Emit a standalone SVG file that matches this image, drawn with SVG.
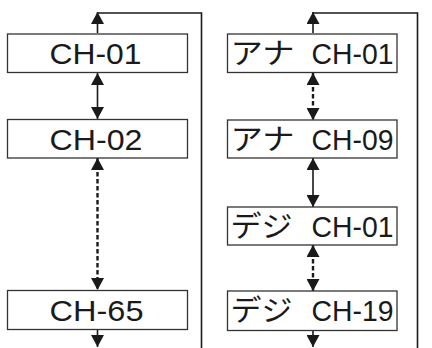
<svg xmlns="http://www.w3.org/2000/svg" width="432" height="348" viewBox="0 0 432 348">
<defs>
<marker id="ah" viewBox="0 0 12 13" refX="12" refY="6.5" markerWidth="12" markerHeight="13" markerUnits="userSpaceOnUse" orient="auto-start-reverse">
<path d="M0,0 L12,6.5 L0,13 Z" fill="#1a1a1a"/>
</marker>
</defs>
<style>
.box{fill:#fff;stroke:#333;stroke-width:1.3}
.t{font-family:"Liberation Sans","Noto Sans CJK JP",sans-serif;font-size:30px;fill:#1a1a1a}
.j{font-family:"Noto Sans CJK JP",sans-serif;font-size:29px;fill:#1a1a1a}
.s{fill:none;stroke:#1a1a1a;stroke-width:1.6}
.d{fill:none;stroke:#1a1a1a;stroke-width:2.4;stroke-dasharray:4.5 2.5}
.ln{fill:none;stroke:#1a1a1a;stroke-width:1.6}
</style>
<rect width="432" height="348" fill="#fff"/>
<g id="connectors">
<path class="ln" d="M97.5,13 H201.5 V348"/>
<line class="s" x1="97.5" y1="33" x2="97.5" y2="12" marker-end="url(#ah)"/>
<line class="s" x1="97.5" y1="73" x2="97.5" y2="119" marker-start="url(#ah)" marker-end="url(#ah)"/>
<line class="d" x1="97.5" y1="158" x2="97.5" y2="290" marker-start="url(#ah)" marker-end="url(#ah)"/>
<line class="s" x1="97.5" y1="330" x2="97.5" y2="347" marker-end="url(#ah)"/>
<path class="ln" d="M313,13 H417.5 V348"/>
<line class="s" x1="313" y1="33" x2="313" y2="12" marker-end="url(#ah)"/>
<line class="d" x1="313" y1="73" x2="313" y2="120" marker-start="url(#ah)" marker-end="url(#ah)"/>
<line class="s" x1="313" y1="158" x2="313" y2="207" marker-start="url(#ah)" marker-end="url(#ah)"/>
<line class="d" x1="313" y1="245" x2="313" y2="291" marker-start="url(#ah)" marker-end="url(#ah)"/>
<line class="s" x1="313" y1="331" x2="313" y2="347" marker-end="url(#ah)"/>
</g>
<g id="n-ch01"><rect class="box" x="7.5" y="34" width="180" height="38.5"/><text class="t" x="49.5" y="64" textLength="92" lengthAdjust="spacingAndGlyphs">CH-01</text></g>
<g id="n-ch02"><rect class="box" x="7.5" y="119.5" width="180" height="38.5"/><text class="t" x="49.5" y="149.5" textLength="93" lengthAdjust="spacingAndGlyphs">CH-02</text></g>
<g id="n-ch65"><rect class="box" x="7.5" y="290.5" width="180" height="39"/><text class="t" x="49.5" y="320.5" textLength="94" lengthAdjust="spacingAndGlyphs">CH-65</text></g>
<g id="n-ana01"><rect class="box" x="227.5" y="34" width="169.5" height="38.5"/><text class="j" x="230.5" y="64" textLength="64" lengthAdjust="spacingAndGlyphs">アナ</text><text class="t" x="311.5" y="64" textLength="82" lengthAdjust="spacingAndGlyphs">CH-01</text></g>
<g id="n-ana09"><rect class="box" x="227.5" y="120" width="169.5" height="38"/><text class="j" x="230.5" y="149.5" textLength="64" lengthAdjust="spacingAndGlyphs">アナ</text><text class="t" x="311.5" y="149.5" textLength="82" lengthAdjust="spacingAndGlyphs">CH-09</text></g>
<g id="n-dig01"><rect class="box" x="227.5" y="207" width="169.5" height="38"/><text class="j" x="230.5" y="236.5" textLength="62" lengthAdjust="spacingAndGlyphs">デジ</text><text class="t" x="311.5" y="236.5" textLength="82" lengthAdjust="spacingAndGlyphs">CH-01</text></g>
<g id="n-dig19"><rect class="box" x="227.5" y="291" width="169.5" height="39.5"/><text class="j" x="230.5" y="321" textLength="62" lengthAdjust="spacingAndGlyphs">デジ</text><text class="t" x="311.5" y="321" textLength="82" lengthAdjust="spacingAndGlyphs">CH-19</text></g>
</svg>
